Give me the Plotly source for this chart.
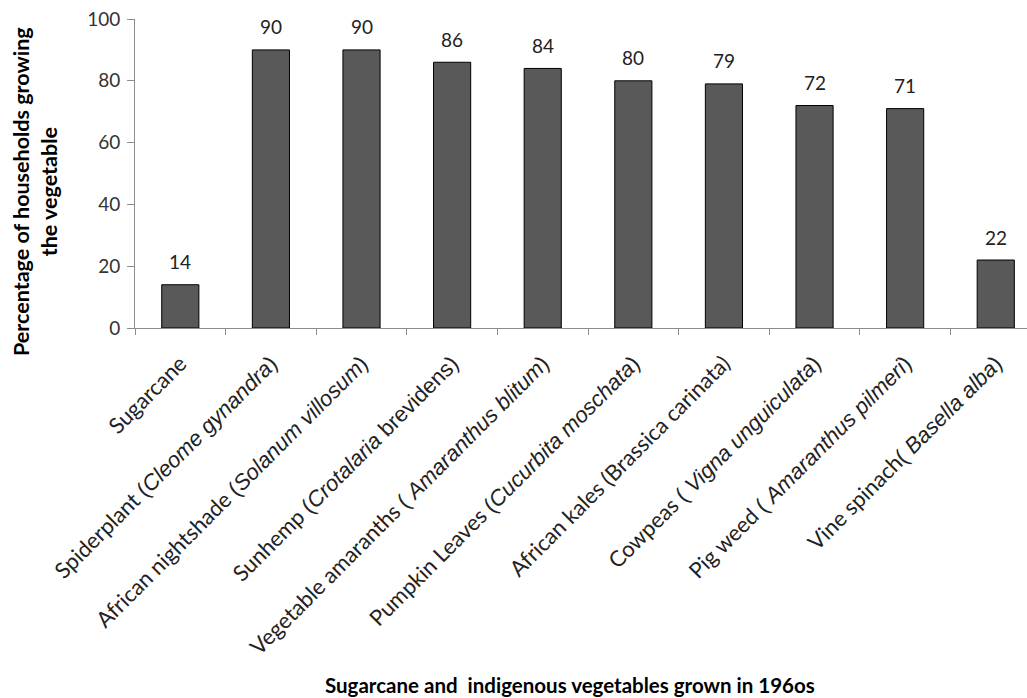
import plotly.graph_objects as go

common = ["Sugarcane", "Spiderplant ", "African nightshade ", "Sunhemp ", "Vegetable amaranths ",
          "Pumpkin Leaves ", "African kales (Brassica carinata)", "Cowpeas ", "Pig weed ", "Vine spinach"]
species = ["", "(<i>Cleome gynandra</i>)", "(<i>Solanum villosum</i>)", "(<i>Crotalaria</i> brevidens)",
           "( <i>Amaranthus blitum</i>)", "(<i>Cucurbita moschata</i>)", "", "( <i>Vigna unguiculata</i>)",
           "( <i>Amaranthus pilmeri</i>)", "( <i>Basella alba</i>)"]
values = [14, 90, 90, 86, 84, 80, 79, 72, 71, 22]
x_title = "Sugarcane and  indigenous vegetables grown in 196os"
y_title = "Percentage of households growing<br>the vegetable"

ARIAL = "Liberation Sans"
BASE = "Lato"
labels = []
for c, s in zip(common, species):
    if s:
        labels.append(c + '<span style="font-family:%s;font-size:22px">%s</span>' % (ARIAL, s))
    else:
        labels.append(c)

fig = go.Figure()
fig.add_trace(go.Bar(
    x=labels, y=values,
    marker=dict(color="#595959", line=dict(color="#000000", width=1)),
    width=0.41,
))

for lab, v in zip(labels, values):
    fig.add_annotation(x=lab, y=v, text=str(v), showarrow=False, yshift=23,
                       yanchor="middle", font=dict(family=BASE, size=19, color="#222222"))

fig.add_annotation(xref="paper", yref="paper", x=0.4873, y=-1.1565,
                   text="<b>%s</b>" % x_title,
                   showarrow=False, xanchor="center", yanchor="middle",
                   font=dict(family=BASE, size=20.5, color="#000000"))
fig.add_annotation(xref="paper", yref="paper", x=-0.112, y=0.4405,
                   text="<b>%s</b>" % y_title,
                   showarrow=False, xanchor="center", yanchor="middle", textangle=-90,
                   font=dict(family=BASE, size=21.5, color="#000000"))

fig.update_layout(
    width=1027, height=698,
    margin=dict(l=135, r=0, t=19, b=370),
    paper_bgcolor="white", plot_bgcolor="white",
    showlegend=False,
    font=dict(family=BASE, color="#222222"),
)
fig.update_xaxes(
    type="category", range=[-0.5, 9.345], tickangle=-45,
    showline=True, linecolor="#8c8c8c", linewidth=1,
    ticks="outside", ticklen=6, tickcolor="#8c8c8c", tickson="boundaries",
    tickfont=dict(family=BASE, size=22, color="#222222"),
    showgrid=False, zeroline=False, ticklabelstandoff=13,
)
fig.update_yaxes(
    range=[0, 100], tickvals=[0, 20, 40, 60, 80, 100],
    showline=True, linecolor="#8c8c8c", linewidth=1,
    ticks="outside", ticklen=7, tickcolor="#8c8c8c",
    tickfont=dict(family=BASE, size=19, color="#333333"),
    showgrid=False, zeroline=False, ticklabelstandoff=3,
)

fig.write_html("out.html")
